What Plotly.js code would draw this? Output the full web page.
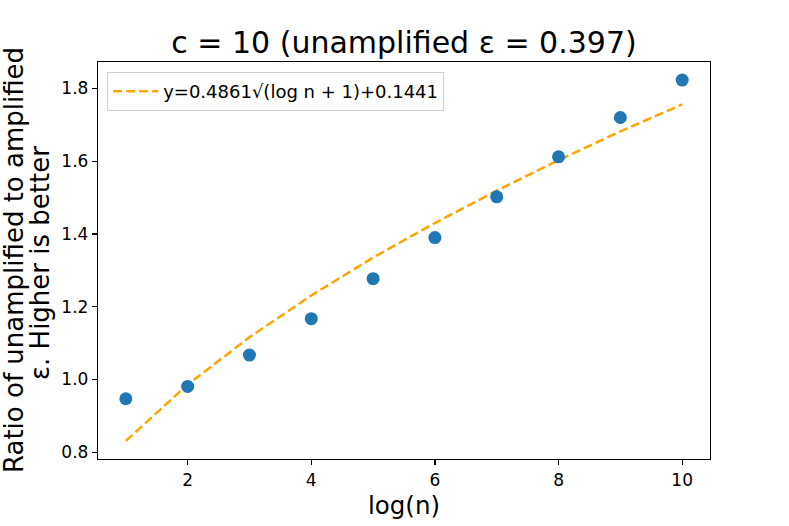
<!DOCTYPE html>
<html>
<head>
<meta charset="utf-8">
<script src="https://cdn.plot.ly/plotly-3.0.1.min.js"></script>
<style>
  body { margin: 0; background: #fff; }
  #plot-area { width: 789px; height: 526px; }
</style>
</head>
<body>
<div id="plot-area"></div>
<script>
// log(n) on the x axis
var logN = [1, 2, 3, 4, 5, 6, 7, 8, 9, 10];
// measured ratio (blue dots)
var ratioValues = [0.947, 0.981, 1.067, 1.167, 1.277, 1.390, 1.502, 1.612, 1.720, 1.823];
// fitted curve read at the same x (orange dashed)
var fitValues = [0.831, 0.986, 1.116, 1.231, 1.335, 1.430, 1.519, 1.603, 1.682, 1.756];

var fitLabel = "y=0.4861\u221a(log n + 1)+0.1441";
var titleText = "c = 10 (unamplified \u03b5 = 0.397)";
var yLabelLines = ["Ratio of unamplified to amplified", "\u03b5. Higher is better"];

var data = [
    {
        x: logN,
        y: fitValues,
        mode: "lines",
        name: fitLabel,
        line: {color: "#ffa500", width: 2.5, dash: "9px,4px"}
    },
    {
        x: logN,
        y: ratioValues,
        mode: "markers",
        name: "data",
        showlegend: false,
        marker: {color: "#1f77b4", size: 13}
    }
];

var axisCommon = {
    showgrid: false,
    zeroline: false,
    showline: true,
    mirror: true,
    linecolor: "#000",
    linewidth: 1.2,
    ticks: "outside",
    ticklen: 5,
    tickwidth: 1.2,
    tickcolor: "#000",
    tickfont: {size: 17, color: "#000"}
};

// the two y label lines sit closer than plotly's <br> spacing, so annotations
var labelX = [14, 40];
var labelY = [260, 263];
var annotations = yLabelLines.map(function (t, i) {
    return {
        text: t, textangle: -90, showarrow: false,
        xref: "paper", yref: "paper",
        x: (labelX[i] - 98) / 612, y: 1 - (labelY[i] - 62) / 397,
        xanchor: "center", yanchor: "middle",
        font: {size: 26, color: "#000"}
    };
});

var layout = {
    width: 789,
    height: 526,
    margin: {l: 98, r: 79, t: 62, b: 67},
    paper_bgcolor: "#fff",
    plot_bgcolor: "#fff",
    font: {family: "DejaVu Sans", color: "#000"},
    title: {text: titleText, font: {size: 30}, xref: "paper", x: 0.5, xanchor: "center", y: 0.92, yanchor: "middle"},
    showlegend: true,
    legend: {
        x: 0.015, y: 0.975, xanchor: "left", yanchor: "top",
        bgcolor: "rgba(255,255,255,0.8)",
        bordercolor: "#d0d0d0",
        borderwidth: 1,
        itemwidth: 45,
        font: {size: 18}
    },
    annotations: annotations,
    xaxis: Object.assign({}, axisCommon, {
        range: [0.55, 10.45],
        tickvals: [2, 4, 6, 8, 10],
        title: {text: "log(n)", font: {size: 24.5}, standoff: 8}
    }),
    yaxis: Object.assign({}, axisCommon, {
        range: [0.7814, 1.8726],
        tickvals: [0.8, 1.0, 1.2, 1.4, 1.6, 1.8],
        tickformat: ".1f"
    })
};

Plotly.newPlot("plot-area", data, layout, {displayModeBar: false, staticPlot: true});
</script>
</body>
</html>
